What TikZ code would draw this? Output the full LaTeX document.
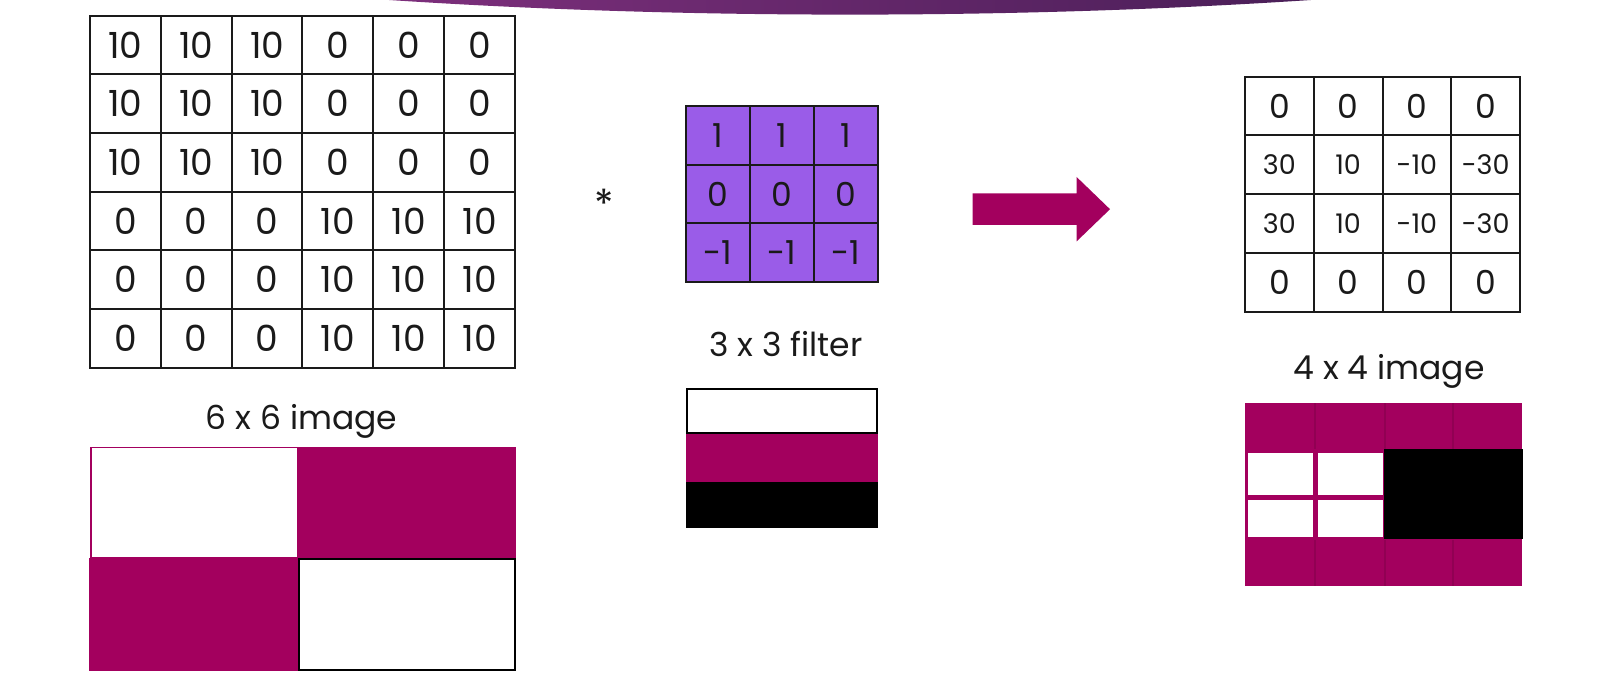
\documentclass[tikz,border=0pt]{standalone}
\usepackage{fontspec}
\setmainfont{Poppins}
\definecolor{mag}{HTML}{A3005E}
\definecolor{magdark}{HTML}{85004C}
\definecolor{fpurple}{HTML}{9A5CE8}
\definecolor{ink}{HTML}{1A1A1A}
\definecolor{banL}{HTML}{7D2F7C}
\definecolor{banM}{HTML}{6B2466}
\definecolor{banR}{HTML}{4A1F58}
\begin{document}
\begin{tikzpicture}[x=1pt,y=-1pt,
  cell/.style={draw=ink, line width=2pt, inner sep=0pt, text=ink, anchor=center},
  incell/.style={cell, minimum width=70.83pt, minimum height=58.67pt, font=\fontsize{36}{36}\selectfont},
  fcell/.style={cell, fill=fpurple, minimum width=63.87pt, minimum height=58.87pt, font=\fontsize{33}{33}\selectfont},
  ocellbig/.style={cell, minimum width=68.75pt, minimum height=58.78pt, font=\fontsize{33}{33}\selectfont},
  ocellsmall/.style={cell, minimum width=68.75pt, minimum height=58.78pt, font=\fontsize{27}{27}\selectfont},
  label/.style={text=ink, inner sep=0pt, anchor=base, font=\fontsize{33}{33}\selectfont},
  sep/.style={draw=magdark, line width=1.5pt, opacity=0.6}]
\useasboundingbox (0,0) rectangle (1603,676);
\fill[white] (0,0) rectangle (1603,676);
% banner
\begin{scope}
  \clip (850,-200) ellipse [x radius=1269, y radius=214.6];
  \shade[left color=banL, middle color=banM, right color=banR] (388,-2) rectangle (1312,16);
\end{scope}
% 6x6 input
\foreach \row [count=\r] in {{10,10,10,0,0,0},{10,10,10,0,0,0},{10,10,10,0,0,0},{0,0,0,10,10,10},{0,0,0,10,10,10},{0,0,0,10,10,10}}{
  \foreach \v [count=\c] in \row {
    \node[incell] (in-\r-\c) at ({90+(\c-0.5)*70.83},{15.7+(\r-0.5)*58.67}) {\v};
  }
}
\node[label] (inlabel) at (301.6,429.5) {6 x 6 image};
% asterisk
\node[text=ink, inner sep=0pt, anchor=base, font=\fontsize{40}{40}\selectfont] (star) at (604,219) {*};
% filter
\foreach \row [count=\r] in {{1,1,1},{0,0,0},{-1,-1,-1}}{
  \foreach \v [count=\c] in \row {
    \node[fcell] (f-\r-\c) at ({686+(\c-0.5)*63.87},{105.7+(\r-0.5)*58.87}) {\v};
  }
}
\node[label] (flabel) at (786,356.7) {3 x 3 filter};
% filter colour bar
\fill[mag] (686,433) rectangle (878,481.7);
\fill[black] (686,481.7) rectangle (878,528);
\filldraw[fill=white, draw=black, line width=2.5pt] (687.2,388.9) rectangle (876.8,433);
% arrow
\fill[mag] (972.5,193.4) -- (1076.5,193.4) -- (1076.5,176.9) -- (1110,209.2) -- (1076.5,241.5) -- (1076.5,225) -- (972.5,225) -- cycle;
% output 4x4
\foreach \r in {1,4}{
  \foreach \c in {1,...,4}{
    \node[ocellbig] (out-\r-\c) at ({1245+(\c-0.5)*68.75},{76.7+(\r-0.5)*58.78}) {0};
  }
}
\foreach \r in {2,3}{
  \foreach \v [count=\c] in {30,10,-10,-30}{
    \node[ocellsmall] (out-\r-\c) at ({1245+(\c-0.5)*68.75},{76.7+(\r-0.5)*58.78}) {\v};
  }
}
\node[label] (outlabel) at (1389,379) {4 x 4 image};
% output colour image
\fill[mag] (1245,402.7) rectangle (1522,586);
\fill[black] (1384,448.5) rectangle (1523,539);
\fill[white] (1247.5,452.5) rectangle (1313,495);
\fill[white] (1318,452.5) rectangle (1383,495);
\fill[white] (1247.5,499.5) rectangle (1313,537);
\fill[white] (1318,499.5) rectangle (1383,537);
\foreach \xx in {1315,1385,1453}{
  \draw[sep] (\xx,403) -- (\xx,449);
  \draw[sep] (\xx,540) -- (\xx,585.5);
}
% input colour image
\filldraw[fill=white, draw=mag, line width=1.5pt] (90.8,447.5) rectangle (297.5,557.5);
\fill[mag] (298.3,446.7) rectangle (515.7,558.3);
\fill[mag] (89,558.3) rectangle (298.3,670.6);
\filldraw[fill=white, draw=black, line width=2pt] (299.3,559.3) rectangle (514.7,669.6);
\end{tikzpicture}
\end{document}
